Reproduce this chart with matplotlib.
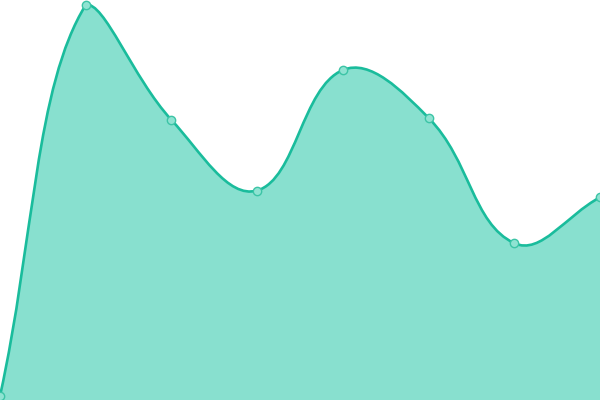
import numpy as np
import matplotlib
matplotlib.use("Agg")
import matplotlib.pyplot as plt
from matplotlib.path import Path
from matplotlib.patches import PathPatch

categories = list(range(8))
values = [1.0, 99.0, 70.2, 52.5, 82.7, 70.7, 39.3, 50.8]
tension = 0.4

fig = plt.figure(figsize=(6, 4), dpi=100)
ax = fig.add_axes([0, 0, 1, 1])
ax.set_xlim(0, 7)
ax.set_ylim(0, 100.25)
ax.axis("off")

# spline control points computed in display space (Chart.js-style)
pts = ax.transData.transform(np.column_stack([categories, values]))
bbox = ax.bbox
n = len(pts)
cps = []
for i in range(n):
    cur = pts[i]
    prev = pts[i - 1] if i > 0 else cur
    nxt = pts[i + 1] if i < n - 1 else cur
    d01 = np.hypot(*(cur - prev))
    d12 = np.hypot(*(nxt - cur))
    tot = d01 + d12
    s01 = d01 / tot if tot else 0
    s12 = d12 / tot if tot else 0
    cp_prev = cur - tension * s01 * (nxt - prev)
    cp_next = cur + tension * s12 * (nxt - prev)
    for cp in (cp_prev, cp_next):
        cp[0] = min(max(cp[0], bbox.x0), bbox.x1)
        cp[1] = min(max(cp[1], bbox.y0), bbox.y1)
    cps.append((cp_prev, cp_next))

verts = [pts[0]]
codes = [Path.MOVETO]
for i in range(n - 1):
    verts += [cps[i][1], cps[i + 1][0], pts[i + 1]]
    codes += [Path.CURVE4] * 3
inv = ax.transData.inverted()
verts_data = inv.transform(np.array(verts))

line_path = Path(verts_data, codes)
fill_verts = np.vstack([verts_data, [[categories[-1], 0], [categories[0], 0], verts_data[0]]])
fill_codes = codes + [Path.LINETO, Path.LINETO, Path.CLOSEPOLY]
fill_path = Path(fill_verts, fill_codes)

ax.add_patch(PathPatch(fill_path, facecolor="#88e0cf", edgecolor="none"))
ax.add_patch(PathPatch(line_path, facecolor="none", edgecolor="#1abc9c", linewidth=1.9))
ax.plot(categories, values, "o", markersize=6, markerfacecolor="#8fe3d2",
        markeredgecolor="#3cc4a6", markeredgewidth=1.0)
fig.savefig("out.png", dpi=100)
